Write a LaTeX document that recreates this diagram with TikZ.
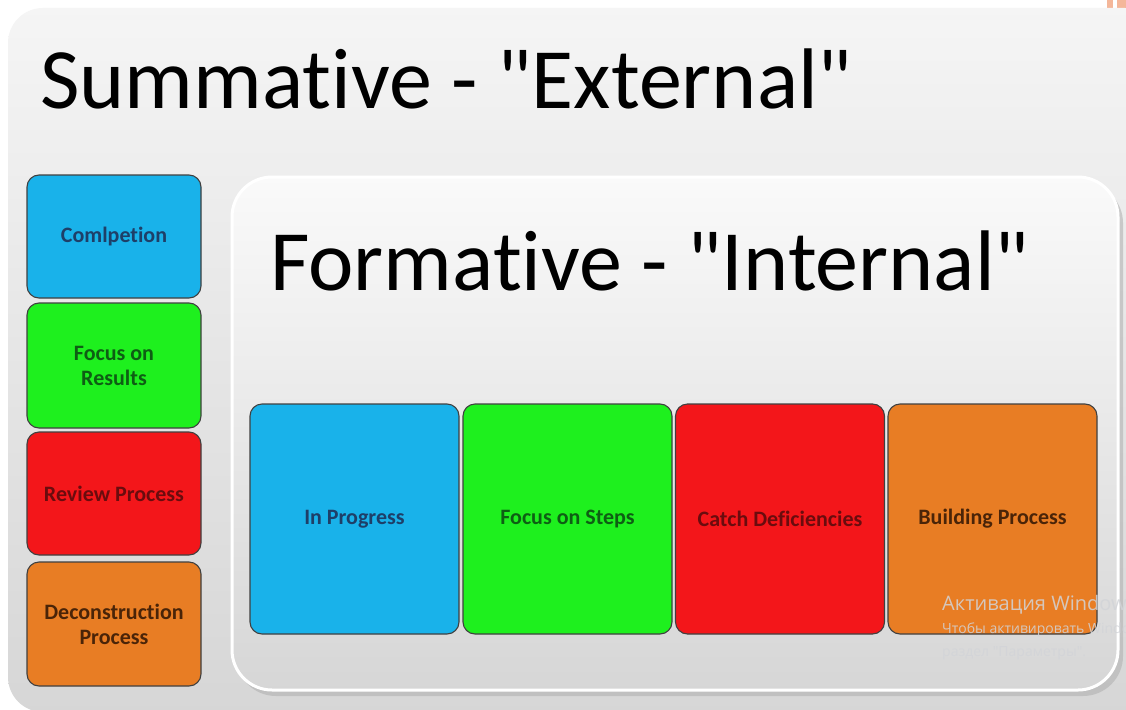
\documentclass[tikz,border=0pt]{standalone}
\usepackage{fontspec}
\setmainfont{Carlito}[Ligatures={TeXOff,NoCommon}]
\newfontfamily\wmfont{Open Sans}[Ligatures={TeXOff}]
\newcommand{\dq}{\symbol{34}}
\definecolor{cblue}{HTML}{19B2EA}
\definecolor{cgreen}{HTML}{1EF01E}
\definecolor{cred}{HTML}{F3161A}
\definecolor{corange}{HTML}{E87D24}
\definecolor{tblue}{HTML}{1E3F68}
\definecolor{tgreen}{HTML}{0E5E14}
\definecolor{tred}{HTML}{6A0C0E}
\definecolor{torange}{HTML}{4A2408}
\definecolor{wm}{HTML}{D2D4D8}
\tikzset{
  sbox/.style={draw=black!75, line width=1.1pt, rounded corners=12pt, align=center,
    font=\fontsize{22}{25}\selectfont\bfseries},
  lbox/.style={sbox, minimum width=174pt},
  rbox/.style={sbox, minimum width=209pt, minimum height=230pt},
  bigtitle/.style={anchor=base west, inner sep=0pt, font=\fontsize{86}{94}\selectfont},
  wmtext/.style={anchor=base west, inner sep=0pt, text=wm, text opacity=0.85},
}
\begin{document}
\begin{tikzpicture}[x=1pt,y=-1pt]
\useasboundingbox (0,0) rectangle (1126,709);
\clip (0,0) rectangle (1126,709);
\fill[white] (0,0) rectangle (1126,709);
\fill[color={rgb,255:red,244;green,183;blue,154}] (1107,0) rectangle (1113,8);
\fill[color={rgb,255:red,244;green,183;blue,154}] (1117,0) rectangle (1126,8);
% outer panel
\shade[top color=black!4, bottom color=black!16, rounded corners=35pt]
  (8,8) rectangle (1160,712);
% title
\node[bigtitle] (t1) at (40,108) {Summative - "External"};
% inner panel shadow and panel
\fill[black!30, opacity=0.6, rounded corners=40pt] (236,183) rectangle (1123,696);
\shade[top color=black!2, bottom color=black!16, draw=white, line width=3pt, rounded corners=40pt]
  (232,177) rectangle (1118,690);
\node[bigtitle] (t2) at (270,290) {Formative - "Internal"};
% left boxes
\node[lbox, fill=cblue, text=tblue, minimum height=123pt] (c1) at (114,236.5) {Comlpetion};
\node[lbox, fill=cgreen, text=tgreen, minimum height=125pt] (c2) at (114,365.5) {Focus on\\Results};
\node[lbox, fill=cred, text=tred, minimum height=123pt] (c3) at (114,493.5) {Review Process};
\node[lbox, fill=corange, text=torange, minimum height=124pt] (c4) at (114,624) {Deconstruction\\Process};
% right boxes
\node[rbox, fill=cblue, text=tblue] (r1) at (354.5,519) {In Progress};
\node[rbox, fill=cgreen, text=tgreen] (r2) at (567.5,519) {Focus on Steps};
\node[rbox, fill=cred, text=tred] (r3) at (780,519) {Catch Deficiencies};
\node[rbox, fill=corange, text=torange] (r4) at (992.5,519) {Building Process};
% watermark
\node[wmtext, font=\wmfont\fontsize{20}{24}\selectfont] (w1) at (942,610) {Активация Windows};
\node[wmtext, font=\wmfont\fontsize{14}{17}\selectfont] (w2) at (942,633) {Чтобы активировать Windows, перейдите в};
\node[wmtext, font=\wmfont\fontsize{14}{17}\selectfont] (w3) at (942,656) {раздел "Параметры".};
\end{tikzpicture}
\end{document}
